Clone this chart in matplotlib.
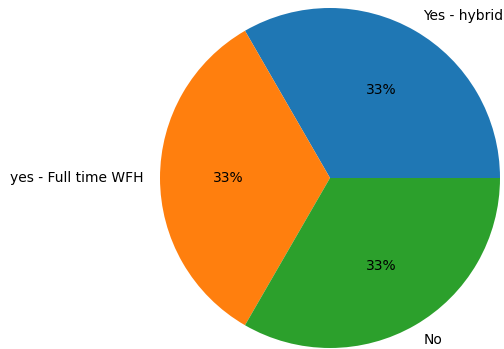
import matplotlib
matplotlib.use("Agg")
import matplotlib.pyplot as plt

labels = ["Yes - hybrid", "yes - Full time WFH", "No"]
counts = [1, 1, 1]


def main():
    fig = plt.figure(figsize=(5.04, 3.49), dpi=100)
    # pie centre about (330, 178) px, radius about 170 px
    ax = fig.add_axes([160 / 504, 1 / 349, 340 / 504, 340 / 349])
    ax.pie(counts, labels=labels, autopct="%1.0f%%",
           textprops={"fontsize": 10})
    ax.set_xlim(-1, 1)
    ax.set_ylim(-1, 1)
    ax.set_aspect("equal")
    fig.savefig("out.png", dpi=100)
    plt.close(fig)


if __name__ == "__main__":
    main()
